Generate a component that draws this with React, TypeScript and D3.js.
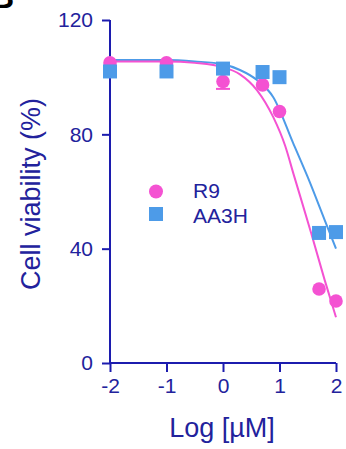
import { useEffect, useRef } from 'react'
import * as d3 from 'd3'

// measured points (log µM, % viability)
const doses = [-2, -1, 0, 0.7, 1, 1.7, 2]
const r9Values = [105, 105, 98.5, 97.3, 88, 25.9, 21.7]
const r9ErrLow = [0, 0, 2.6, 0, 0, 0, 0]
const aa3hValues = [102, 102, 103, 101.8, 100, 45.5, 45.8]

// fitted curves
const r9CurveX = [-2, -1, -0.5, 0, 0.3, 0.6, 0.89, 1.1, 1.25, 1.56, 1.8, 2]
const r9CurveY = [105.5, 105.5, 105, 103.5, 101, 95.5, 86, 76, 66, 45.5, 29, 16]
const aa3hCurveX = [-2, -1, -0.5, 0, 0.3, 0.6, 0.89, 1.24, 1.5, 1.8, 2]
const aa3hCurveY = [106, 106, 105.5, 104.5, 102.5, 99, 93, 77, 65, 50, 40]

const xTicks = [-2, -1, 0, 1, 2]
const yTicks = [0, 40, 80, 120]

const PINK = '#f452d2'
const BLUE = '#4d9be8'
const AXIS = '#1c1cae'
const INK = '#22229c'
const FONT = '"Liberation Sans", Arial, sans-serif'

export default function App() {
  const svgRef = useRef<SVGSVGElement>(null)

  useEffect(() => {
    const svgEl = svgRef.current
    if (!svgEl) return
    const svg = d3.select(svgEl)
    svg.selectAll('*').remove()

    const x = d3.scaleLinear().domain([-2, 2]).range([110, 336])
    const y = d3.scaleLinear().domain([0, 120]).range([363, 20])

    // panel letter, mostly cropped
    svg.append('text')
      .attr('x', -9).attr('y', 8)
      .attr('font-family', FONT).attr('font-size', 32).attr('font-weight', 700)
      .attr('fill', '#000')
      .text('B')

    // Y axis
    svg.append('g')
      .attr('transform', `translate(${x(-2)},0)`)
      .call(d3.axisLeft(y).tickValues(yTicks).tickSize(8).tickPadding(9).tickFormat(d => `${d}`))
      .call(ax => {
        ax.select('.domain').attr('stroke', AXIS).attr('stroke-width', 2)
          .attr('d', `M0,${y(0)}V${y(120)}`)
        ax.selectAll('.tick line').attr('stroke', AXIS).attr('stroke-width', 2)
        ax.selectAll('.tick text')
          .attr('font-family', FONT).attr('font-size', 21).attr('fill', INK)
      })

    // X axis
    svg.append('g')
      .attr('transform', `translate(0,${y(0)})`)
      .call(d3.axisBottom(x).tickValues(xTicks).tickSize(9).tickPadding(6).tickFormat(d => `${d}`))
      .call(ax => {
        ax.select('.domain').attr('stroke', AXIS).attr('stroke-width', 2)
          .attr('d', `M${x(-2)},0H${x(2)}`)
        ax.selectAll('.tick line').attr('stroke', AXIS).attr('stroke-width', 2)
        ax.selectAll('.tick text')
          .attr('font-family', FONT).attr('font-size', 21).attr('fill', INK)
      })

    // axis titles
    svg.append('text')
      .attr('x', 222).attr('y', 437).attr('text-anchor', 'middle')
      .attr('font-family', FONT).attr('font-size', 27).attr('fill', INK)
      .text('Log [µM]')
    svg.append('text')
      .attr('transform', 'rotate(-90)')
      .attr('x', -194).attr('y', 40).attr('text-anchor', 'middle')
      .attr('font-family', FONT).attr('font-size', 27).attr('fill', INK)
      .text('Cell viability (%)')

    // curves
    const line = d3.line<[number, number]>()
      .x(d => x(d[0])).y(d => y(d[1]))
      .curve(d3.curveMonotoneX)
    svg.append('path')
      .attr('d', line(d3.zip(aa3hCurveX, aa3hCurveY) as [number, number][]))
      .attr('fill', 'none').attr('stroke', BLUE).attr('stroke-width', 2)
    svg.append('path')
      .attr('d', line(d3.zip(r9CurveX, r9CurveY) as [number, number][]))
      .attr('fill', 'none').attr('stroke', PINK).attr('stroke-width', 2)

    // R9 points + error bars
    doses.forEach((d, i) => {
      if (r9ErrLow[i] > 0) {
        const y0 = y(r9Values[i]), y1 = y(r9Values[i] - r9ErrLow[i])
        svg.append('line')
          .attr('x1', x(d)).attr('x2', x(d)).attr('y1', y0).attr('y2', y1)
          .attr('stroke', PINK).attr('stroke-width', 2)
        svg.append('line')
          .attr('x1', x(d) - 7).attr('x2', x(d) + 7).attr('y1', y1).attr('y2', y1)
          .attr('stroke', PINK).attr('stroke-width', 2)
      }
    })
    svg.append('g').selectAll('circle')
      .data(doses).enter().append('circle')
      .attr('cx', d => x(d)).attr('cy', (_, i) => y(r9Values[i]))
      .attr('r', 6.8).attr('fill', PINK)

    // AA3H points
    const s = 14
    svg.append('g').selectAll('rect')
      .data(doses).enter().append('rect')
      .attr('x', d => x(d) - s / 2).attr('y', (_, i) => y(aa3hValues[i]) - s / 2)
      .attr('width', s).attr('height', s).attr('fill', BLUE)

    // legend
    svg.append('circle').attr('cx', 156).attr('cy', 191.5).attr('r', 7).attr('fill', PINK)
    svg.append('rect').attr('x', 149).attr('y', 207).attr('width', 14).attr('height', 14).attr('fill', BLUE)
    svg.append('text')
      .attr('x', 193).attr('y', 198)
      .attr('font-family', FONT).attr('font-size', 21).attr('fill', INK)
      .text('R9')
    svg.append('text')
      .attr('x', 193).attr('y', 223)
      .attr('font-family', FONT).attr('font-size', 21).attr('fill', INK)
      .text('AA3H')
  }, [])

  return (
    <svg
      ref={svgRef}
      width={346}
      height={449}
      style={{ position: 'absolute', left: 0, top: 0, background: '#fff' }}
    />
  )
}
